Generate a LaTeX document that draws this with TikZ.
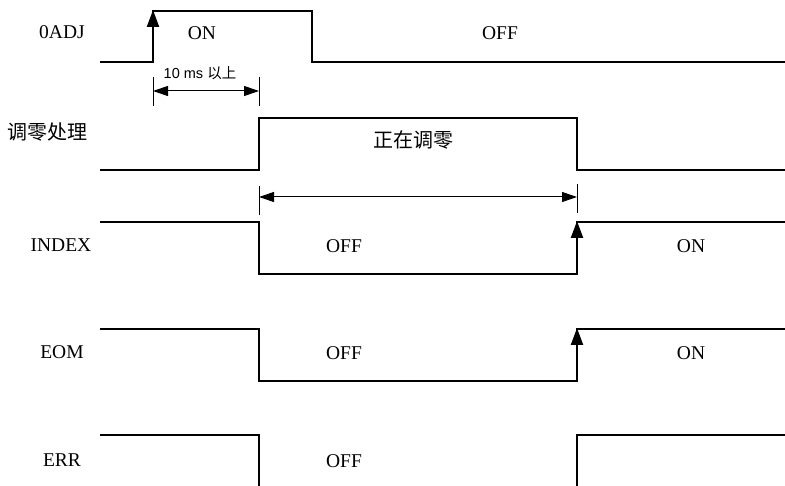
\documentclass[tikz,border=0pt]{standalone}
\usepackage{fontspec}
\setmainfont{Liberation Serif}
\newfontfamily\cjk{Noto Sans CJK SC}
\newfontfamily\arialf{Liberation Sans}
\usetikzlibrary{arrows.meta}
\begin{document}
\begin{tikzpicture}[x=1pt,y=-1pt,
  wave/.style={line width=2.2pt,line join=miter},
  edgearrow/.style={line width=2.2pt,-{Triangle[length=17pt,width=12pt]}},
  dimline/.style={line width=1pt,{Triangle[length=15pt,width=10pt]}-{Triangle[length=15pt,width=10pt]}},
  tick/.style={line width=1pt},
  sig/.style={font=\fontsize{19.5}{22}\selectfont},
  st/.style={font=\fontsize{19.5}{22}\selectfont},
  cn/.style={font=\cjk\fontsize{20}{22}\selectfont}]
\useasboundingbox (0,0) rectangle (785,486);
\clip (0,0) rectangle (785,486);
% labels
\node[sig] (l0) at (62,32) {0ADJ};
\node[cn] (l1) at (48,132) {调零处理};
\node[sig] (l2) at (61,245) {INDEX};
\node[sig] (l3) at (62,352) {EOM};
\node[sig] (l4) at (62,460) {ERR};
% 0ADJ
\draw[wave] (100,62) -- (153,62) -- (153,11) -- (312,11) -- (312,62) -- (785,62);
\draw[edgearrow] (153,40) -- (153,10);
\node[st] (on0) at (202,33) {ON};
\node[st] (off0) at (500,33) {OFF};
% 10 ms dimension
\coordinate (t1a) at (153,77); \coordinate (t1b) at (153,106);
\coordinate (t2a) at (259,77); \coordinate (t2b) at (259,106);
\draw[tick] (t1a) -- (t1b);
\draw[tick] (t2a) -- (t2b);
\coordinate (d1a) at (153,91); \coordinate (d1b) at (259,91);
\draw[dimline] (d1a) -- (d1b);
\node[font=\arialf\fontsize{14.5}{16}\selectfont] (dimtxt) at (200,73) {10 ms {\cjk 以上}};
% zero processing
\draw[wave] (100,170) -- (259,170) -- (259,118) -- (577,118) -- (577,170) -- (785,170);
\node[cn] (zp) at (413,140) {正在调零};
\coordinate (t3a) at (259,186); \coordinate (t3b) at (259,215);
\coordinate (t4a) at (577,184); \coordinate (t4b) at (577,213);
\draw[tick] (t3a) -- (t3b);
\draw[tick] (t4a) -- (t4b);
\coordinate (d2a) at (259,197); \coordinate (d2b) at (577,197);
\draw[dimline] (d2a) -- (d2b);
% INDEX
\draw[wave] (100,222) -- (259,222) -- (259,274) -- (577,274) -- (577,222) -- (785,222);
\draw[edgearrow] (577,250) -- (577,221);
\node[st] (off2) at (344,246) {OFF};
\node[st] (on2) at (691,246) {ON};
% EOM
\draw[wave] (100,329) -- (259,329) -- (259,381) -- (577,381) -- (577,329) -- (785,329);
\draw[edgearrow] (577,357) -- (577,328);
\node[st] (off3) at (344,353) {OFF};
\node[st] (on3) at (691,353) {ON};
% ERR
\draw[wave] (100,435) -- (259,435) -- (259,490);
\draw[wave] (577,490) -- (577,435) -- (785,435);
\node[st] (off4) at (344,461) {OFF};
\end{tikzpicture}
\end{document}
